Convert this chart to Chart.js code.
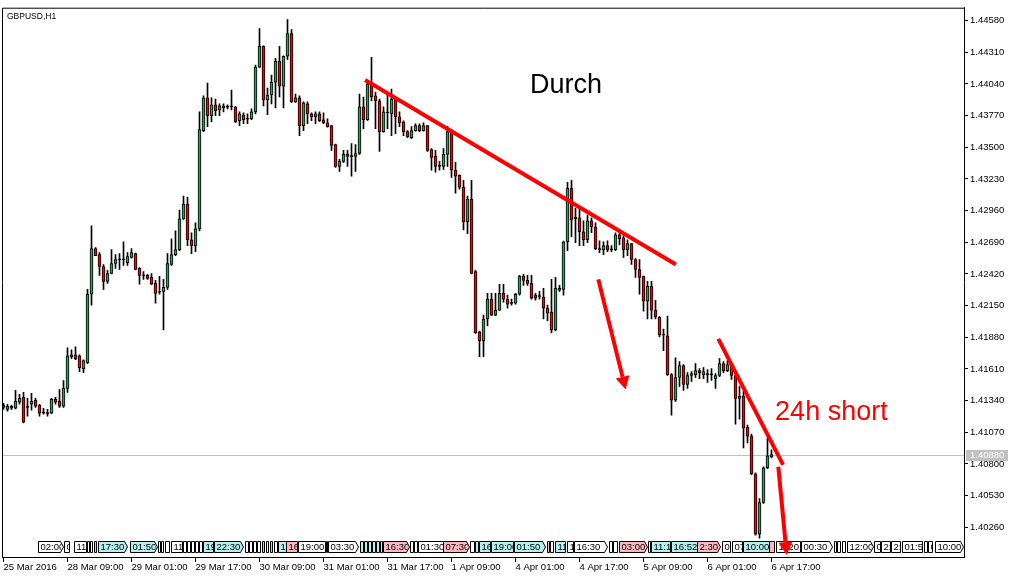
<!DOCTYPE html>
<html>
<head>
<meta charset="utf-8">
<title>GBPUSD,H1</title>
<script src="https://cdn.jsdelivr.net/npm/chart.js@4.4.1/dist/chart.umd.min.js"></script>
<style>
  html, body { margin: 0; padding: 0; background: #ffffff; }
  canvas { display: block; }
</style>
</head>
<body>
<canvas id="grafico" width="1017" height="578"></canvas>
<script>
// GBPUSD H1 candles, bar 0 = 25 Mar 2016, bar 192 = 6 Apr 17:00
var opens = [
  1.41283,1.41266,1.41275,1.41275,1.41326,1.41368,1.41283,1.41309,1.41343,1.41300,
  1.41233,1.41233,1.41233,1.41351,1.41334,1.41292,1.41444,1.41714,1.41731,1.41723,
  1.41613,1.41664,1.42247,1.42636,1.42585,1.42484,1.42357,1.42424,1.42509,1.42541,
  1.42545,1.42517,1.42560,1.42594,1.42467,1.42408,1.42408,1.42391,1.42340,1.42272,
  1.42272,1.42306,1.42501,1.42585,1.42627,1.42889,1.43016,1.42712,1.42661,1.42805,
  1.43642,1.43921,1.43769,1.43861,1.43819,1.43836,1.43845,1.43845,1.43845,1.43726,
  1.43777,1.43743,1.43743,1.43802,1.44183,1.44360,1.43904,1.43946,1.44056,1.44233,
  1.44022,1.44276,1.44470,1.43887,1.43921,1.43684,1.43870,1.43785,1.43760,1.43785,
  1.43735,1.43709,1.43684,1.43523,1.43337,1.43380,1.43439,1.43420,1.43422,1.43447,
  1.43845,1.43735,1.44039,1.43938,1.43895,1.43633,1.43792,1.43785,1.43912,1.43760,
  1.43718,1.43633,1.43583,1.43642,1.43684,1.43642,1.43684,1.43481,1.43422,1.43346,
  1.43337,1.43439,1.43633,1.43304,1.43261,1.43160,1.42864,1.43058,1.42441,1.41926,
  1.41850,1.42036,1.42205,1.42069,1.42112,1.42255,1.42205,1.42169,1.42171,1.42247,
  1.42399,1.42365,1.42340,1.42239,1.42228,1.42222,1.42129,1.42095,1.41943,1.42281,
  1.42289,1.42695,1.43151,1.42906,1.42898,1.42780,1.42712,1.42872,1.42822,1.42636,
  1.42627,1.42661,1.42625,1.42627,1.42754,1.42729,1.42627,1.42678,1.42543,1.42458,
  1.42399,1.42188,1.42315,1.42112,1.42053,1.41898,1.41892,1.41562,1.41343,1.41537,
  1.41638,1.41478,1.41554,1.41562,1.41596,1.41562,1.41571,1.41560,1.41528,1.41554,
  1.41655,1.41596,1.41638,1.41554,1.41359,1.41376,1.41114,1.41038,1.40717,1.40201,
  1.40472,1.40768,1.40861
];
var highs = [
  1.41317,1.41309,1.41300,1.41427,1.41393,1.41410,1.41359,1.41402,1.41359,1.41309,
  1.41275,1.41266,1.41359,1.41368,1.41435,1.41512,1.41791,1.41774,1.41799,1.41731,
  1.41689,1.42289,1.42830,1.42644,1.42602,1.42501,1.42450,1.42627,1.42585,1.42594,
  1.42695,1.42602,1.42636,1.42598,1.42475,1.42441,1.42416,1.42424,1.42365,1.42399,
  1.42374,1.42594,1.42720,1.42788,1.42965,1.43084,1.43075,1.42771,1.42856,1.43802,
  1.43938,1.44047,1.43921,1.43912,1.43870,1.43870,1.43861,1.43988,1.43848,1.43802,
  1.43794,1.43785,1.43828,1.44200,1.44512,1.44365,1.44005,1.44115,1.44259,1.44360,
  1.44280,1.44588,1.44504,1.43954,1.43938,1.43887,1.43887,1.43794,1.43802,1.43802,
  1.43794,1.43743,1.43688,1.43527,1.43397,1.43473,1.43473,1.43532,1.43523,1.43954,
  1.43929,1.44064,1.44267,1.43971,1.43912,1.43845,1.43954,1.43997,1.43929,1.43802,
  1.43726,1.43642,1.43676,1.43701,1.43701,1.43709,1.43688,1.43490,1.43473,1.43380,
  1.43490,1.43676,1.43650,1.43371,1.43265,1.43219,1.43084,1.43219,1.42450,1.41934,
  1.42069,1.42255,1.42255,1.42255,1.42332,1.42332,1.42239,1.42205,1.42255,1.42408,
  1.42416,1.42408,1.42408,1.42255,1.42272,1.42298,1.42154,1.42374,1.42391,1.42323,
  1.42700,1.43202,1.43219,1.42982,1.42982,1.42872,1.42923,1.42898,1.42856,1.42703,
  1.42695,1.42703,1.42661,1.42771,1.42780,1.42746,1.42712,1.42682,1.42551,1.42543,
  1.42403,1.42357,1.42357,1.42196,1.42057,1.41951,1.42061,1.41571,1.41706,1.41672,
  1.41647,1.41579,1.41588,1.41655,1.41613,1.41621,1.41605,1.41613,1.41571,1.41698,
  1.41672,1.41681,1.41655,1.41558,1.41461,1.41419,1.41131,1.41055,1.40725,1.40506,
  1.40776,1.41021,1.40920
];
var lows = [
  1.41266,1.41250,1.41266,1.41270,1.41309,1.41150,1.41207,1.41258,1.41283,1.41207,
  1.41224,1.41207,1.41228,1.41309,1.41283,1.41283,1.41410,1.41698,1.41689,1.41588,
  1.41579,1.41655,1.42154,1.42575,1.42408,1.42289,1.42340,1.42420,1.42467,1.42458,
  1.42492,1.42492,1.42555,1.42455,1.42332,1.42374,1.42374,1.42328,1.42171,1.42247,
  1.41943,1.42289,1.42492,1.42577,1.42619,1.42885,1.42661,1.42594,1.42610,1.42788,
  1.43633,1.43676,1.43718,1.43769,1.43769,1.43802,1.43828,1.43819,1.43709,1.43684,
  1.43701,1.43701,1.43735,1.43785,1.44178,1.43853,1.43777,1.43870,1.43836,1.43929,
  1.43836,1.44250,1.43883,1.43883,1.43599,1.43642,1.43701,1.43726,1.43701,1.43718,
  1.43701,1.43672,1.43473,1.43329,1.43295,1.43371,1.43337,1.43253,1.43295,1.43439,
  1.43659,1.43730,1.43895,1.43659,1.43464,1.43628,1.43659,1.43599,1.43616,1.43676,
  1.43599,1.43583,1.43574,1.43638,1.43633,1.43638,1.43464,1.43304,1.43287,1.43304,
  1.43312,1.43337,1.43244,1.43109,1.43143,1.42796,1.42763,1.42420,1.41913,1.41714,
  1.41714,1.41976,1.42065,1.42065,1.42108,1.42179,1.42129,1.42154,1.42162,1.42239,
  1.42323,1.42323,1.42205,1.42196,1.42205,1.42036,1.42019,1.41917,1.41934,1.42272,
  1.42239,1.42619,1.42737,1.42687,1.42661,1.42661,1.42687,1.42771,1.42627,1.42602,
  1.42585,1.42610,1.42610,1.42619,1.42670,1.42560,1.42577,1.42501,1.42391,1.42247,
  1.42103,1.42036,1.42036,1.42036,1.41884,1.41765,1.41554,1.41216,1.41334,1.41461,
  1.41427,1.41444,1.41503,1.41537,1.41528,1.41528,1.41495,1.41512,1.41444,1.41545,
  1.41579,1.41588,1.41520,1.41140,1.41182,1.40937,1.40979,1.40709,1.40193,1.40168,
  1.40463,1.40759,1.40852
];
var closes = [
  1.41300,1.41292,1.41292,1.41334,1.41359,1.41157,1.41287,1.41334,1.41292,1.41233,
  1.41237,1.41229,1.41351,1.41326,1.41292,1.41444,1.41723,1.41731,1.41698,1.41621,
  1.41681,1.42247,1.42636,1.42577,1.42484,1.42357,1.42424,1.42509,1.42543,1.42545,
  1.42541,1.42568,1.42602,1.42458,1.42408,1.42404,1.42382,1.42332,1.42255,1.42264,
  1.42306,1.42509,1.42585,1.42627,1.42889,1.43016,1.42712,1.42661,1.42805,1.43650,
  1.43921,1.43769,1.43861,1.43811,1.43853,1.43853,1.43841,1.43849,1.43718,1.43785,
  1.43735,1.43739,1.43802,1.44183,1.44360,1.43904,1.43946,1.44056,1.44233,1.44022,
  1.44276,1.44470,1.43887,1.43921,1.43684,1.43878,1.43785,1.43760,1.43785,1.43726,
  1.43709,1.43676,1.43515,1.43337,1.43380,1.43439,1.43422,1.43424,1.43447,1.43845,
  1.43735,1.44039,1.43929,1.43895,1.43633,1.43802,1.43796,1.43912,1.43760,1.43709,
  1.43633,1.43591,1.43642,1.43684,1.43642,1.43684,1.43473,1.43413,1.43337,1.43337,
  1.43439,1.43633,1.43304,1.43253,1.43160,1.42864,1.43058,1.42424,1.41917,1.41850,
  1.42036,1.42205,1.42069,1.42112,1.42255,1.42205,1.42162,1.42173,1.42247,1.42399,
  1.42365,1.42340,1.42213,1.42213,1.42232,1.42129,1.42086,1.41943,1.42298,1.42298,
  1.42695,1.43151,1.42881,1.42889,1.42780,1.42712,1.42872,1.42822,1.42636,1.42627,
  1.42661,1.42627,1.42629,1.42754,1.42720,1.42627,1.42678,1.42543,1.42458,1.42391,
  1.42188,1.42315,1.42112,1.42053,1.41900,1.41902,1.41562,1.41343,1.41537,1.41638,
  1.41478,1.41554,1.41571,1.41596,1.41579,1.41588,1.41562,1.41564,1.41554,1.41655,
  1.41596,1.41647,1.41554,1.41359,1.41376,1.41106,1.41038,1.40717,1.40201,1.40472,
  1.40768,1.40869,1.40880
];

// axis ticks
var tickBars = [0, 16, 32, 48, 64, 80, 96, 112, 128, 144, 160, 176, 192];
var tickLabels = ["25 Mar 2016", "28 Mar 09:00", "29 Mar 01:00", "29 Mar 17:00", "30 Mar 09:00",
  "31 Mar 01:00", "31 Mar 17:00", "1 Apr 09:00", "4 Apr 01:00", "4 Apr 17:00",
  "5 Apr 09:00", "6 Apr 01:00", "6 Apr 17:00"];
var tickPrices = [1.40260, 1.40530, 1.40800, 1.41070, 1.41340, 1.41610, 1.41880, 1.42150, 1.42420,
  1.42690, 1.42960, 1.43230, 1.43500, 1.43770, 1.44040, 1.44310, 1.44580];
var lastPrice = 1.40880;

// drawn objects: [bar, price, bar, price]
var trendLines = [[90.4, 1.44073, 168.1, 1.42501], [178.7, 1.41867, 194.9, 1.40793]];
var arrows = [[148.7, 1.42374, 155.55, 1.41435], [193.7, 1.40776, 195.8, 1.40024]];
var notes = [["Durch", 131.6, 1.43963, "#000000"], ["24h short", 192.9, 1.41173, "#ff0000"]];

// calendar events strip: [from bar, to bar, text, kind, arrow]
var events = [
  [8.6, 14.9, "02:00", "w", 1], [15.1, 16.4, "0", "w", 0], [17.6, 20.6, "11", "w", 0],
  [20.9, 21.4, "", "w", 0], [21.6, 22.1, "", "w", 0], [22.6, 23.1, "", "p", 0],
  [23.6, 30.9, "17:30", "c", 1], [31.6, 38.4, "01:50", "c", 1],
  [38.6, 39.1, "", "w", 0], [39.4, 39.9, "", "w", 0], [40.4, 41.4, "", "w", 0],
  [41.9, 44.6, "11", "w", 0], [44.9, 45.6, "", "w", 0], [45.9, 46.6, "", "w", 0],
  [46.9, 47.6, "", "w", 0], [47.9, 48.6, "", "w", 0], [48.9, 49.6, "", "w", 0],
  [49.9, 52.4, "19", "c", 0], [52.6, 59.9, "22:30", "c", 1],
  [60.4, 61.1, "", "w", 0], [61.4, 62.1, "", "w", 0], [62.4, 63.1, "", "w", 0],
  [63.4, 64.1, "", "w", 0], [64.6, 65.1, "", "p", 0], [65.6, 66.1, "", "w", 0],
  [66.6, 67.1, "", "p", 0], [67.6, 68.4, "", "w", 0], [68.6, 70.5, "1", "c", 0],
  [70.6, 73.4, "16", "p", 0], [73.6, 80.4, "19:00", "w", 0], [80.6, 80.9, "", "w", 0],
  [81.1, 88.6, "03:30", "w", 1],
  [89.1, 89.9, "", "c", 0], [90.1, 90.9, "", "c", 0], [91.1, 91.9, "", "c", 0],
  [92.1, 92.9, "", "c", 0], [93.1, 93.9, "", "c", 0], [94.1, 94.6, "", "c", 0],
  [94.9, 101.4, "16:30", "p", 1], [101.6, 102.4, "", "w", 0], [102.6, 103.4, "", "w", 0],
  [103.6, 109.8, "01:30", "w", 0], [109.9, 116.4, "07:30", "p", 1],
  [116.6, 117.6, "", "w", 0], [117.9, 118.6, "", "c", 0], [118.9, 121.6, "16", "c", 0],
  [121.9, 127.4, "19:00", "c", 0], [127.6, 135.4, "01:50", "c", 1],
  [135.9, 136.4, "", "p", 0], [136.6, 137.4, "", "w", 0], [137.9, 140.4, "11", "c", 0],
  [140.9, 142.4, "1", "w", 0], [142.6, 150.9, "16:30", "w", 1],
  [151.4, 152.1, "", "w", 0], [152.4, 153.4, "", "w", 0], [153.9, 160.9, "03:00", "p", 1],
  [161.1, 161.6, "", "w", 0], [161.9, 166.6, "11:1", "c", 0], [166.9, 173.4, "16:52", "c", 0],
  [173.4, 179.1, "2:30", "p", 1], [179.6, 181.6, "0", "w", 0], [182.1, 184.6, "07", "w", 0],
  [184.9, 191.4, "10:00", "c", 0], [191.4, 192.6, "", "p", 0], [193.1, 195.4, "1", "w", 0],
  [195.6, 199.1, "20", "w", 0], [199.4, 207.1, "00:30", "w", 1],
  [207.6, 208.1, "", "w", 0], [208.4, 209.1, "", "w", 0], [209.6, 210.4, "", "w", 0],
  [210.9, 217.4, "12:00", "w", 1], [217.6, 219.1, "0", "w", 0], [219.4, 221.6, "2:", "w", 0],
  [221.9, 224.1, "2:", "w", 0], [224.6, 229.6, "01:5", "w", 0], [230.1, 230.9, "", "w", 0],
  [231.1, 232.1, "0", "w", 0], [232.9, 239.9, "10:00", "w", 1]
];

var bullColor = "#2e9e5b";
var bearColor = "#ff0000";
var evColors = { w: "#ffffff", c: "#b4f0f0", p: "#ffb6c1" };
var smallFont = "Liberation Sans, Arial, sans-serif";

var wickData = lows.map(function (l, i) { return { x: i, y: [l, highs[i]] }; });
var bodyData = opens.map(function (o, i) { return { x: i, y: [o, closes[i]] }; });
var bodyColors = opens.map(function (o, i) {
    if (Math.abs(closes[i] - o) < 0.00005) return "#000000";
    return closes[i] > o ? bullColor : bearColor;
});

function px(chart, bar, price) {
    return [chart.scales.x.getPixelForValue(bar), chart.scales.y.getPixelForValue(price)];
}

var mt4Decor = {
    id: "mt4Decor",
    beforeDatasetsDraw: function (chart) {
        var ctx = chart.ctx, a = chart.chartArea;
        var y = Math.round(chart.scales.y.getPixelForValue(lastPrice)) + 0.5;
        ctx.save();
        ctx.strokeStyle = "#c0c0c0";
        ctx.lineWidth = 1;
        ctx.beginPath();
        ctx.moveTo(a.left, y);
        ctx.lineTo(a.right, y);
        ctx.stroke();
        ctx.restore();
    },
    afterDatasetsDraw: function (chart) {
        var ctx = chart.ctx, a = chart.chartArea;
        ctx.save();

        // events strip along the bottom
        var top = a.bottom - 15.5, bot = a.bottom - 4.5, mid = (top + bot) / 2;
        ctx.font = "9.5px " + smallFont;
        ctx.textBaseline = "middle";
        events.forEach(function (ev) {
            var x0 = Math.round(chart.scales.x.getPixelForValue(ev[0])) + 0.5;
            var x1 = Math.round(chart.scales.x.getPixelForValue(ev[1])) + 0.5;
            ctx.beginPath();
            if (ev[4]) {
                ctx.moveTo(x0, top);
                ctx.lineTo(x1 - 3, top);
                ctx.lineTo(x1, mid);
                ctx.lineTo(x1 - 3, bot);
                ctx.lineTo(x0, bot);
            } else {
                ctx.rect(x0, top, x1 - x0, bot - top);
            }
            ctx.closePath();
            ctx.fillStyle = evColors[ev[3]];
            ctx.fill();
            ctx.strokeStyle = "#000000";
            ctx.lineWidth = 1;
            ctx.stroke();
            if (ev[2]) {
                ctx.save();
                ctx.beginPath();
                ctx.rect(x0 + 1, top, x1 - x0 - (ev[4] ? 3 : 1), bot - top);
                ctx.clip();
                ctx.fillStyle = "#000000";
                ctx.fillText(ev[2], x0 + 2, mid + 0.5);
                ctx.restore();
            }
        });

        // red trend lines
        ctx.strokeStyle = "#ff0000";
        ctx.fillStyle = "#ff0000";
        ctx.lineWidth = 4;
        trendLines.forEach(function (t) {
            var p = px(chart, t[0], t[1]), q = px(chart, t[2], t[3]);
            ctx.beginPath();
            ctx.moveTo(p[0], p[1]);
            ctx.lineTo(q[0], q[1]);
            ctx.stroke();
        });

        // arrows
        arrows.forEach(function (t) {
            var p = px(chart, t[0], t[1]), q = px(chart, t[2], t[3]);
            var dx = q[0] - p[0], dy = q[1] - p[1], len = Math.sqrt(dx * dx + dy * dy);
            var ux = dx / len, uy = dy / len;
            var bx = q[0] - ux * 13, by = q[1] - uy * 13;
            ctx.beginPath();
            ctx.moveTo(p[0], p[1]);
            ctx.lineTo(bx, by);
            ctx.stroke();
            ctx.beginPath();
            ctx.moveTo(q[0], q[1]);
            ctx.lineTo(bx - uy * 7, by + ux * 7);
            ctx.lineTo(bx + uy * 7, by - ux * 7);
            ctx.closePath();
            ctx.fill();
        });

        // text labels
        ctx.font = "27px Liberation Sans, Arial, sans-serif";
        ctx.textBaseline = "alphabetic";
        notes.forEach(function (n) {
            var p = px(chart, n[1], n[2]);
            ctx.fillStyle = n[3];
            ctx.fillText(n[0], p[0], p[1]);
        });
        ctx.restore();
    },
    afterDraw: function (chart) {
        var ctx = chart.ctx, a = chart.chartArea;
        ctx.save();
        // frame left and top
        ctx.strokeStyle = "#000000";
        ctx.lineWidth = 1;
        ctx.beginPath();
        ctx.moveTo(a.left + 0.5, a.bottom);
        ctx.lineTo(a.left + 0.5, a.top + 0.5);
        ctx.lineTo(a.right, a.top + 0.5);
        ctx.stroke();

        ctx.fillStyle = "#000000";
        ctx.font = "8.5px " + smallFont;
        ctx.textBaseline = "middle";
        ctx.fillText("GBPUSD,H1", a.left + 5, a.top + 9);

        // last price marker
        var y = Math.round(chart.scales.y.getPixelForValue(lastPrice));
        ctx.fillStyle = "#c0c0c0";
        ctx.fillRect(a.right + 2, y - 5, 42, 11);
        ctx.fillStyle = "#ffffff";
        ctx.font = "9.5px " + smallFont;
        ctx.fillText(lastPrice.toFixed(5), a.right + 6, y + 0.5);
        ctx.restore();
    }
};

var ctx1 = document.getElementById("grafico").getContext("2d");
new Chart(ctx1, {
    type: "bar",
    data: {
        datasets: [
            {
                label: "body",
                data: bodyData,
                backgroundColor: bodyColors,
                borderColor: "#000000",
                borderWidth: 1,
                borderSkipped: false,
                barThickness: 3,
                minBarLength: 1,
                grouped: false,
                order: 0
            },
            {
                label: "wick",
                data: wickData,
                backgroundColor: "#000000",
                borderWidth: 0,
                barThickness: 1,
                grouped: false,
                order: 1
            }
        ]
    },
    options: {
        responsive: false,
        animation: false,
        devicePixelRatio: 1,
        layout: { padding: { left: 2, top: 3, right: 0, bottom: 0 } },
        plugins: { legend: { display: false }, tooltip: { enabled: false } },
        scales: {
            x: {
                type: "linear",
                min: -0.375,
                max: 240.125,
                offset: false,
                afterBuildTicks: function (s) { s.ticks = tickBars.map(function (v) { return { value: v }; }); },
                afterFit: function (s) { s.height = 21; },
                grid: { drawOnChartArea: false, drawTicks: true, tickLength: 5, color: "#000000", offset: false },
                border: { color: "#000000" },
                ticks: {
                    align: "start", padding: 0, maxRotation: 0, minRotation: 0, autoSkip: false,
                    color: "#000000", font: { family: smallFont, size: 9.5 },
                    callback: function (v, i) { return tickLabels[i]; }
                }
            },
            y: {
                position: "right",
                min: 1.40007,
                max: 1.44690,
                afterBuildTicks: function (s) { s.ticks = tickPrices.map(function (v) { return { value: v }; }); },
                afterFit: function (s) { s.width = 53; },
                grid: { drawOnChartArea: false, drawTicks: true, tickLength: 4, color: "#000000" },
                border: { color: "#000000" },
                ticks: {
                    padding: 2, color: "#000000", font: { family: smallFont, size: 9.5 },
                    callback: function (v) { return v.toFixed(5); }
                }
            }
        }
    },
    plugins: [mt4Decor]
});
</script>
</body>
</html>
